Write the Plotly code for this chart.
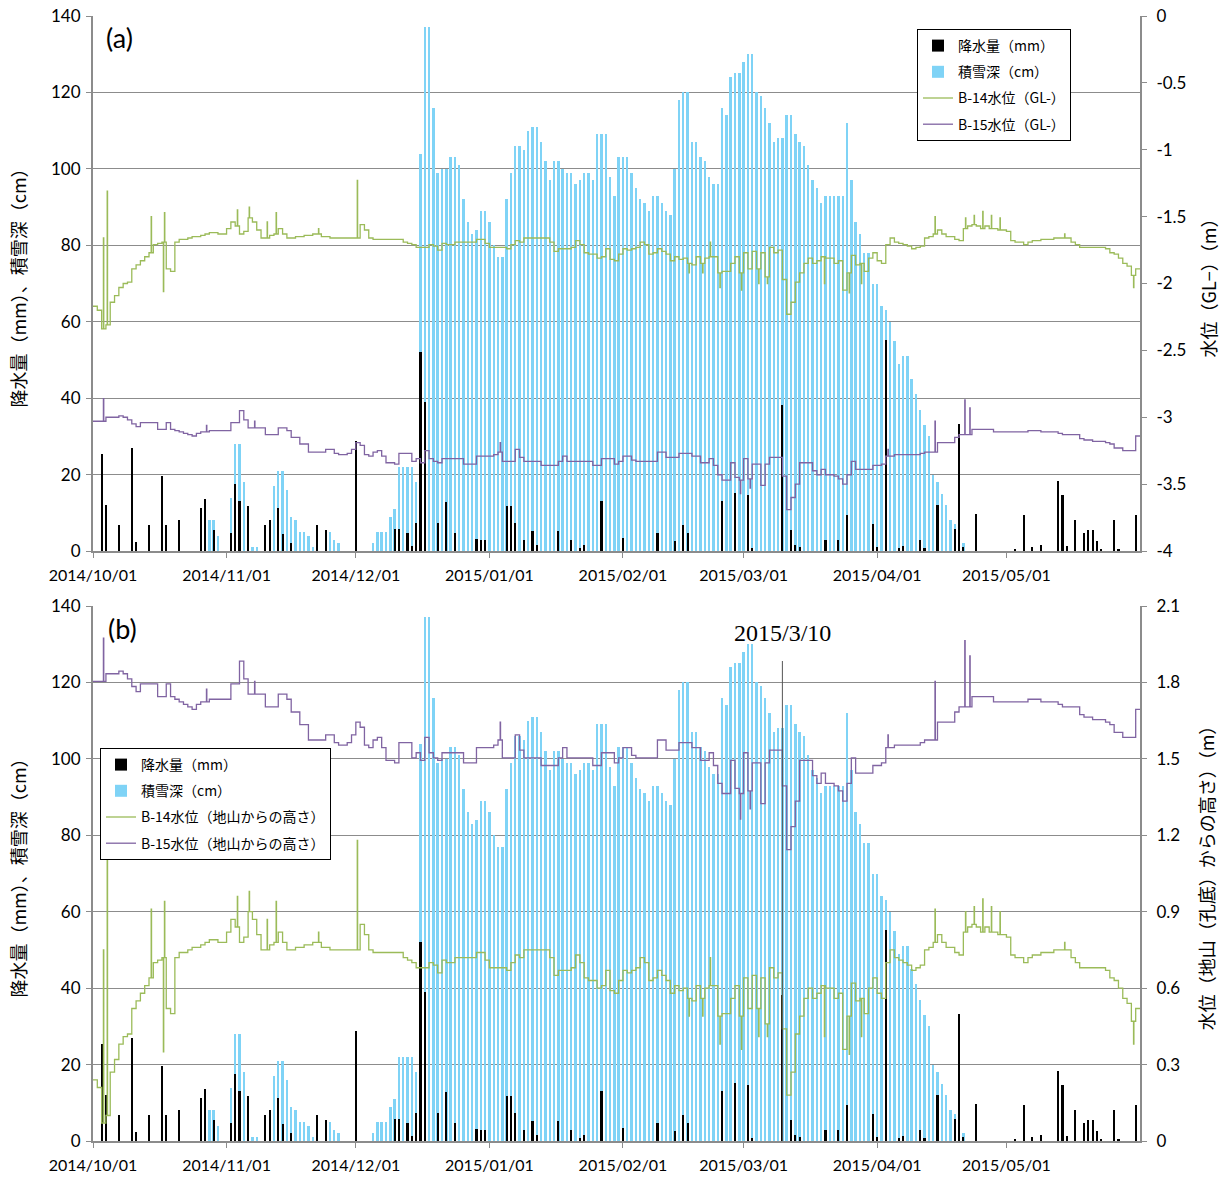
import numpy as np
import pandas as pd
import plotly.graph_objects as go

# ---------------- data ----------------
X_START, X_END = "2014-10-01", "2015-06-01"
days = pd.date_range("2014-10-01", "2015-05-31", freq="D")

month_ticks = ["2014-10-01", "2014-11-01", "2014-12-01", "2015-01-01",
               "2015-02-01", "2015-03-01", "2015-04-01", "2015-05-01"]
month_labels = ["2014/10/01", "2014/11/01", "2014/12/01", "2015/01/01",
                "2015/02/01", "2015/03/01", "2015/04/01", "2015/05/01"]

left_ticks = [0, 20, 40, 60, 80, 100, 120, 140]
right_a_ticks = [0, -0.5, -1, -1.5, -2, -2.5, -3, -3.5, -4]
right_a_labels = ["0", "-0.5", "-1", "-1.5", "-2", "-2.5", "-3", "-3.5", "-4"]
right_b_ticks = [0, 0.3, 0.6, 0.9, 1.2, 1.5, 1.8, 2.1]
right_b_labels = ["0", "0.3", "0.6", "0.9", "1.2", "1.5", "1.8", "2.1"]

# snow depth (cm), daily 2014/10/01 .. 2015/05/31
snow_cm = [
    0, 0, 0, 0, 0, 0, 0, 0, 0, 0,
    0, 0, 0, 0, 0, 0, 0, 0, 0, 0,
    0, 0, 0, 0, 0, 0, 5, 8, 8, 4,
    0, 0, 14, 28, 28, 18, 8, 1, 1, 0,
    0, 0, 17, 21, 21, 16, 9, 8, 5, 5,
    4, 1, 0, 0, 0, 5, 3, 2, 0, 0,
    0, 0, 0, 0, 0, 2, 5, 5, 5, 9,
    11, 22, 22, 22, 22, 18, 104, 137, 137, 116,
    99, 100, 100, 103, 103, 101, 92, 86, 83, 84,
    89, 89, 86, 80, 77, 77, 92, 99, 106, 106,
    105, 110, 111, 111, 107, 102, 97, 102, 102, 100,
    99, 99, 96, 97, 99, 99, 97, 109, 109, 109,
    98, 93, 103, 103, 103, 99, 95, 92, 91, 89,
    93, 93, 91, 89, 88, 100, 118, 120, 120, 107,
    107, 103, 102, 98, 96, 96, 116, 114, 124, 125,
    125, 128, 130, 130, 120, 119, 116, 112, 107, 108,
    108, 114, 114, 109, 107, 106, 101, 97, 95, 91,
    93, 93, 93, 93, 93, 112, 97, 86, 83, 78,
    78, 70, 70, 64, 63, 60, 55, 49, 51, 51,
    45, 41, 37, 33, 30, 20, 18, 15, 12, 8,
    7, 5, 2, 0, 0, 0, 0, 0, 0, 0,
    0, 0, 0, 0, 0, 0, 0, 0, 0, 0,
    0, 0, 0, 0, 0, 0, 0, 0, 0, 0,
    0, 0, 0, 0, 0, 0, 0, 0, 0, 0,
    0, 0, 0,
]

# precipitation (mm), days with rain
precip_dates = [
    "2014-10-03", "2014-10-04", "2014-10-07", "2014-10-10", "2014-10-11",
    "2014-10-14", "2014-10-17", "2014-10-18", "2014-10-21", "2014-10-26",
    "2014-10-27", "2014-10-29", "2014-11-02", "2014-11-03", "2014-11-04",
    "2014-11-06", "2014-11-10", "2014-11-11", "2014-11-13", "2014-11-14",
    "2014-11-16", "2014-11-22", "2014-11-24", "2014-12-01", "2014-12-10",
    "2014-12-11", "2014-12-13", "2014-12-14", "2014-12-15", "2014-12-16",
    "2014-12-17", "2014-12-20", "2014-12-22", "2014-12-24", "2014-12-29",
    "2014-12-30", "2014-12-31", "2015-01-05", "2015-01-06", "2015-01-07",
    "2015-01-09", "2015-01-11", "2015-01-12", "2015-01-17", "2015-01-20",
    "2015-01-22", "2015-01-23", "2015-01-27", "2015-02-01", "2015-02-09",
    "2015-02-13", "2015-02-15", "2015-02-16", "2015-02-24", "2015-02-27",
    "2015-03-02", "2015-03-03", "2015-03-10", "2015-03-12", "2015-03-13",
    "2015-03-14", "2015-03-20", "2015-03-23", "2015-03-25", "2015-03-31",
    "2015-04-01", "2015-04-03", "2015-04-06", "2015-04-07", "2015-04-11",
    "2015-04-12", "2015-04-15", "2015-04-19", "2015-04-20", "2015-04-21",
    "2015-04-24", "2015-05-03", "2015-05-05", "2015-05-07", "2015-05-09",
    "2015-05-13", "2015-05-14", "2015-05-15", "2015-05-17", "2015-05-19",
    "2015-05-20", "2015-05-21", "2015-05-22", "2015-05-23", "2015-05-26",
    "2015-05-27", "2015-05-31",
]
precip_mm = [
    25.3, 12.0, 6.9, 26.9, 2.3,
    6.9, 19.5, 6.9, 8.0, 11.3,
    13.7, 5.4, 4.6, 17.6, 13.0,
    11.8, 6.9, 8.0, 11.3, 4.4,
    2.0, 6.9, 5.4, 28.8, 5.7,
    5.7, 4.6, 1.3, 7.3, 52.0,
    39.0, 7.3, 12.8, 4.7, 3.1,
    2.8, 2.8, 11.8, 11.8, 7.2,
    3.0, 5.3, 1.5, 5.3, 3.0,
    0.8, 1.5, 13.1, 3.5, 4.6,
    2.5, 6.9, 4.6, 13.0, 15.3,
    14.7, 0.8, 38.2, 5.5, 1.5,
    1.0, 2.9, 3.0, 9.4, 7.0,
    1.0, 55.3, 0.8, 1.2, 3.0,
    0.8, 12.0, 5.7, 33.2, 1.0,
    9.6, 0.3, 9.4, 1.0, 1.5,
    18.3, 14.7, 1.2, 8.2, 4.7,
    5.6, 5.6, 2.7, 0.3, 8.2,
    0.3, 9.4,
]

# water level below ground (GL-, m), daily
b14_gl = [
    -2.17, -2.20, -2.34, -2.31, -2.14, -2.09, -2.03, -2.00, -1.99, -1.89,
    -1.86, -1.83, -1.80, -1.77, -1.71, -1.70, -1.69, -1.89, -1.91, -1.69,
    -1.67, -1.67, -1.66, -1.65, -1.65, -1.64, -1.63, -1.62, -1.62, -1.63,
    -1.63, -1.59, -1.54, -1.57, -1.63, -1.61, -1.51, -1.54, -1.60, -1.66,
    -1.66, -1.64, -1.63, -1.59, -1.63, -1.66, -1.66, -1.65, -1.65, -1.64,
    -1.64, -1.63, -1.63, -1.65, -1.65, -1.66, -1.66, -1.66, -1.66, -1.66,
    -1.66, -1.66, -1.56, -1.60, -1.66, -1.67, -1.67, -1.67, -1.67, -1.67,
    -1.67, -1.67, -1.69, -1.70, -1.71, -1.73, -1.73, -1.73, -1.71, -1.72,
    -1.75, -1.70, -1.71, -1.71, -1.69, -1.69, -1.69, -1.69, -1.69, -1.67,
    -1.67, -1.70, -1.73, -1.73, -1.73, -1.73, -1.74, -1.71, -1.68, -1.69,
    -1.66, -1.66, -1.66, -1.66, -1.66, -1.66, -1.69, -1.76, -1.74, -1.74,
    -1.74, -1.73, -1.68, -1.71, -1.77, -1.78, -1.78, -1.81, -1.80, -1.74,
    -1.82, -1.83, -1.78, -1.74, -1.75, -1.74, -1.73, -1.69, -1.71, -1.78,
    -1.77, -1.74, -1.76, -1.78, -1.83, -1.80, -1.82, -1.81, -1.85, -1.86,
    -1.80, -1.85, -1.81, -1.80, -1.80, -1.92, -1.91, -1.91, -1.85, -1.80,
    -1.92, -1.77, -1.89, -1.76, -1.89, -1.77, -1.95, -1.73, -1.77, -1.75,
    -1.97, -2.23, -2.14, -1.99, -1.92, -1.85, -1.81, -1.85, -1.83, -1.80,
    -1.81, -1.81, -1.85, -1.83, -2.05, -1.92, -1.79, -1.86, -1.85, -1.91,
    -1.81, -1.77, -1.83, -1.85, -1.71, -1.66, -1.69, -1.70, -1.71, -1.72,
    -1.74, -1.73, -1.72, -1.66, -1.65, -1.63, -1.60, -1.63, -1.65, -1.65,
    -1.67, -1.68, -1.59, -1.57, -1.56, -1.57, -1.59, -1.57, -1.59, -1.59,
    -1.60, -1.60, -1.61, -1.68, -1.69, -1.69, -1.71, -1.69, -1.68, -1.68,
    -1.67, -1.67, -1.67, -1.66, -1.66, -1.66, -1.66, -1.69, -1.71, -1.73,
    -1.73, -1.73, -1.73, -1.73, -1.73, -1.74, -1.77, -1.78, -1.81, -1.85,
    -1.87, -1.94, -1.89,
]
b15_gl = [
    -3.03, -3.03, -3.03, -3.00, -3.00, -3.00, -2.99, -3.00, -3.02, -3.05,
    -3.07, -3.04, -3.04, -3.04, -3.04, -3.09, -3.09, -3.04, -3.09, -3.10,
    -3.11, -3.12, -3.13, -3.14, -3.12, -3.11, -3.11, -3.10, -3.10, -3.10,
    -3.10, -3.10, -3.04, -3.04, -2.95, -3.02, -3.08, -3.08, -3.08, -3.08,
    -3.13, -3.13, -3.13, -3.08, -3.08, -3.10, -3.15, -3.15, -3.20, -3.20,
    -3.26, -3.26, -3.26, -3.26, -3.24, -3.24, -3.27, -3.28, -3.28, -3.27,
    -3.24, -3.19, -3.21, -3.28, -3.29, -3.26, -3.25, -3.29, -3.34, -3.34,
    -3.35, -3.27, -3.27, -3.27, -3.33, -3.31, -3.34, -3.25, -3.31, -3.33,
    -3.34, -3.31, -3.31, -3.31, -3.31, -3.31, -3.35, -3.35, -3.35, -3.29,
    -3.29, -3.29, -3.29, -3.28, -3.26, -3.33, -3.33, -3.33, -3.24, -3.30,
    -3.33, -3.33, -3.33, -3.33, -3.36, -3.36, -3.36, -3.36, -3.33, -3.29,
    -3.33, -3.33, -3.33, -3.33, -3.33, -3.33, -3.36, -3.36, -3.31, -3.31,
    -3.31, -3.35, -3.33, -3.29, -3.29, -3.32, -3.33, -3.33, -3.33, -3.33,
    -3.33, -3.26, -3.26, -3.30, -3.30, -3.30, -3.27, -3.27, -3.27, -3.29,
    -3.29, -3.34, -3.34, -3.31, -3.36, -3.43, -3.47, -3.47, -3.34, -3.45,
    -3.47, -3.31, -3.46, -3.35, -3.35, -3.51, -3.35, -3.30, -3.30, -3.30,
    -3.44, -3.69, -3.60, -3.50, -3.34, -3.34, -3.34, -3.40, -3.43, -3.39,
    -3.43, -3.43, -3.44, -3.46, -3.50, -3.43, -3.33, -3.39, -3.39, -3.39,
    -3.39, -3.36, -3.36, -3.35, -3.29, -3.29, -3.28, -3.28, -3.28, -3.28,
    -3.28, -3.28, -3.27, -3.26, -3.26, -3.26, -3.19, -3.19, -3.19, -3.19,
    -3.15, -3.13, -3.13, -3.13, -3.09, -3.09, -3.09, -3.09, -3.09, -3.11,
    -3.11, -3.11, -3.11, -3.11, -3.11, -3.11, -3.11, -3.10, -3.10, -3.10,
    -3.11, -3.11, -3.11, -3.11, -3.12, -3.13, -3.13, -3.13, -3.13, -3.16,
    -3.17, -3.17, -3.18, -3.18, -3.18, -3.19, -3.20, -3.23, -3.23, -3.25,
    -3.25, -3.25, -3.14,
]

# short-lived readings (spikes) within a day
b14_spike_time = [
    "2014-10-03 10:00", "2014-10-04 07:00", "2014-10-14 12:00", "2014-10-17 08:00",
    "2014-10-17 14:00", "2014-11-03 12:00", "2014-11-06 06:00", "2014-11-10 10:00",
    "2014-11-12 12:00", "2014-11-22 08:00", "2014-12-01 08:00", "2015-02-16 08:00",
    "2015-02-19 12:00", "2015-02-21 06:00", "2015-02-23 12:00", "2015-02-28 12:00",
    "2015-03-04 12:00", "2015-03-06 12:00", "2015-03-19 18:00", "2015-03-25 12:00",
    "2015-03-28 08:00", "2015-04-14 10:00", "2015-04-21 12:00", "2015-04-23 12:00",
    "2015-04-25 12:00", "2015-04-27 12:00", "2015-04-29 12:00", "2015-05-14 12:00",
    "2015-05-30 12:00",
]
b14_spike_gl = [
    -1.66, -1.31, -1.50, -2.06,
    -1.47, -1.45, -1.43, -1.54,
    -1.47, -1.59, -1.23, -1.92,
    -1.92, -1.69, -2.03, -2.05,
    -2.00, -2.00, -2.00, -2.07,
    -2.00, -1.50, -1.51, -1.49,
    -1.46, -1.49, -1.51, -1.63,
    -2.03,
]
b15_spike_time = [
    "2014-10-03 10:00", "2014-10-27 08:00", "2014-11-07 12:00", "2015-01-03 12:00",
    "2015-02-28 06:00", "2015-03-02 12:00", "2015-04-03 12:00", "2015-04-14 10:00",
    "2015-04-21 08:00", "2015-04-22 12:00",
]
b15_spike_gl = [
    -2.86, -3.06, -3.03, -3.19,
    -3.57, -3.53, -3.24, -3.03,
    -2.87, -2.93,
]

# height of ground surface above hole bottom (m): GL- level -> height above bottom
B14_GROUND_ABOVE_BOTTOM = 2.41
B15_GROUND_ABOVE_BOTTOM = 4.834

event_date = "2015-03-10"
event_label = "2015/3/10"

# ---------------- helpers ----------------
def level_series(base, spike_times, spike_vals, shift=0.0):
    xs = list(days) + [pd.Timestamp(X_END)]
    ys = list(base) + [base[-1]]
    for t, v in zip(spike_times, spike_vals):
        t = pd.Timestamp(t)
        i = (t.normalize() - days[0]).days
        xs += [t, t + pd.Timedelta(hours=2)]
        ys += [v, base[i]]
    order = np.argsort(np.array(xs, dtype="datetime64[ns]"), kind="stable")
    return [xs[k] for k in order], [round(ys[k] + shift, 4) for k in order]


DAY_MS = 86400000
C_SNOW = "#7fd3f6"
C_RAIN = "#000000"
C_B14 = "#9bbb59"
C_B15 = "#8064a2"
GRID = "#8c8c8c"
NUM_FONT = dict(family="Lato, Open Sans, sans-serif", size=17, color="#000")
JP_FONT = "Noto Sans CJK JP"

fig = go.Figure()

panels = [
    dict(x="x", yl="y", yr="y2", legend="legend", grp="a",
         n14="B-14水位（GL-）", n15="B-15水位（GL-）", s14=0.0, s15=0.0),
    dict(x="x2", yl="y3", yr="y4", legend="legend2", grp="b",
         n14="B-14水位（地山からの高さ）", n15="B-15水位（地山からの高さ）",
         s14=B14_GROUND_ABOVE_BOTTOM, s15=B15_GROUND_ABOVE_BOTTOM),
]

for p in panels:
    fig.add_trace(go.Bar(
        x=days, y=snow_cm, width=0.56 * DAY_MS, marker=dict(color=C_SNOW, line=dict(width=0)),
        name="積雪深（cm）", xaxis=p["x"], yaxis=p["yl"], legend=p["legend"],
        legendgroup=p["grp"] + "2", legendrank=2))
    fig.add_trace(go.Bar(
        x=pd.to_datetime(precip_dates), y=precip_mm, width=0.5 * DAY_MS,
        marker=dict(color=C_RAIN, line=dict(width=0)),
        name="降水量（mm）", xaxis=p["x"], yaxis=p["yl"], legend=p["legend"],
        legendgroup=p["grp"] + "1", legendrank=1))
    x14, y14 = level_series(b14_gl, b14_spike_time, b14_spike_gl, p["s14"])
    fig.add_trace(go.Scatter(
        x=x14, y=y14, mode="lines", line=dict(color=C_B14, width=1.3, shape="hv"),
        name=p["n14"], xaxis=p["x"], yaxis=p["yr"], legend=p["legend"],
        legendgroup=p["grp"] + "3", legendrank=3))
    x15, y15 = level_series(b15_gl, b15_spike_time, b15_spike_gl, p["s15"])
    fig.add_trace(go.Scatter(
        x=x15, y=y15, mode="lines", line=dict(color=C_B15, width=1.3, shape="hv"),
        name=p["n15"], xaxis=p["x"], yaxis=p["yr"], legend=p["legend"],
        legendgroup=p["grp"] + "4", legendrank=4))

W, H = 1230, 1177
ML, MR, MT, MB = 93, 90, 16, 36
PW = W - ML - MR
PH = H - MT - MB
DOM_A = [1 - 535 / PH, 1.0]
DOM_B = [0.0, 535 / PH]

xcommon = dict(
    range=[X_START, X_END], tickvals=month_ticks, ticktext=month_labels,
    showgrid=False, showline=True, linecolor=GRID, linewidth=2,
    ticks="outside", ticklen=5, tickcolor=GRID, tickfont=dict(NUM_FONT, size=16),
    ticklabelstandoff=4, zeroline=False, automargin=False,
)
ycommon = dict(
    range=[0, 140], tickvals=left_ticks, showgrid=True, gridcolor=GRID, gridwidth=1,
    showline=True, linecolor=GRID, linewidth=2, ticks="outside", ticklen=5,
    tickcolor=GRID, tickfont=NUM_FONT, zeroline=False, automargin=False,
    ticklabelstandoff=2,
    title=dict(text="降水量（mm）、積雪深（cm）", font=dict(family=JP_FONT, size=18, color="#000"),
               standoff=20),
)
rcommon = dict(
    showgrid=False, showline=True, linecolor=GRID, linewidth=2, ticks="outside",
    ticklen=5, tickcolor=GRID, tickfont=NUM_FONT, zeroline=False, side="right",
    automargin=False, ticklabelstandoff=6,
)

legend_common = dict(
    bgcolor="white", bordercolor="black", borderwidth=1,
    font=dict(family=JP_FONT, size=14, color="#000"),
    tracegroupgap=5, itemwidth=30, xanchor="left", yanchor="top",
    itemclick=False, itemdoubleclick=False,
)

fig.update_layout(
    width=W, height=H, margin=dict(l=ML, r=MR, t=MT, b=MB, autoexpand=False),
    paper_bgcolor="white", plot_bgcolor="white", barmode="overlay", bargap=0,
    showlegend=True,
    xaxis=dict(domain=[0, 1], anchor="y", **xcommon),
    yaxis=dict(domain=DOM_A, anchor="x", **ycommon),
    yaxis2=dict(overlaying="y", anchor="x", range=[-4, 0], tickvals=right_a_ticks,
                ticktext=right_a_labels,
                title=dict(text="水位（GL−）（m）", font=dict(family=JP_FONT, size=18, color="#000"),
                           standoff=18), **rcommon),
    xaxis2=dict(domain=[0, 1], anchor="y3", **xcommon),
    yaxis3=dict(domain=DOM_B, anchor="x2", **ycommon),
    yaxis4=dict(overlaying="y3", anchor="x2", range=[0, 2.1], tickvals=right_b_ticks,
                ticktext=right_b_labels,
                title=dict(text="水位（地山（孔底）からの高さ）（m）",
                           font=dict(family=JP_FONT, size=18, color="#000"), standoff=22),
                **rcommon),
    legend=dict(x=(917 - ML) / PW, y=(H - MB - 29) / PH, **legend_common),
    legend2=dict(x=(100 - ML) / PW, y=(H - MB - 748) / PH, **legend_common),
)

fig.add_annotation(text="(a)", xref="paper", yref="paper",
                   x=(104 - ML) / PW, y=(H - MB - 38) / PH,
                   xanchor="left", yanchor="middle", showarrow=False,
                   font=dict(family="Lato, Open Sans, sans-serif", size=27, color="#000"))
fig.add_annotation(text="(b)", xref="paper", yref="paper",
                   x=(106 - ML) / PW, y=(H - MB - 628) / PH,
                   xanchor="left", yanchor="middle", showarrow=False,
                   font=dict(family="Lato, Open Sans, sans-serif", size=27, color="#000"))
fig.add_annotation(text=event_label, xref="x2", yref="paper",
                   x=event_date, y=(H - MB - 633) / PH,
                   xanchor="center", yanchor="middle", showarrow=False,
                   font=dict(family="Liberation Serif, DejaVu Serif, serif", size=24, color="#000"))
fig.add_shape(type="line", xref="x2", yref="paper", x0=event_date, x1=event_date,
              y0=0, y1=(H - MB - 661) / PH, line=dict(color="#555555", width=1))

fig.write_html("out.html")
